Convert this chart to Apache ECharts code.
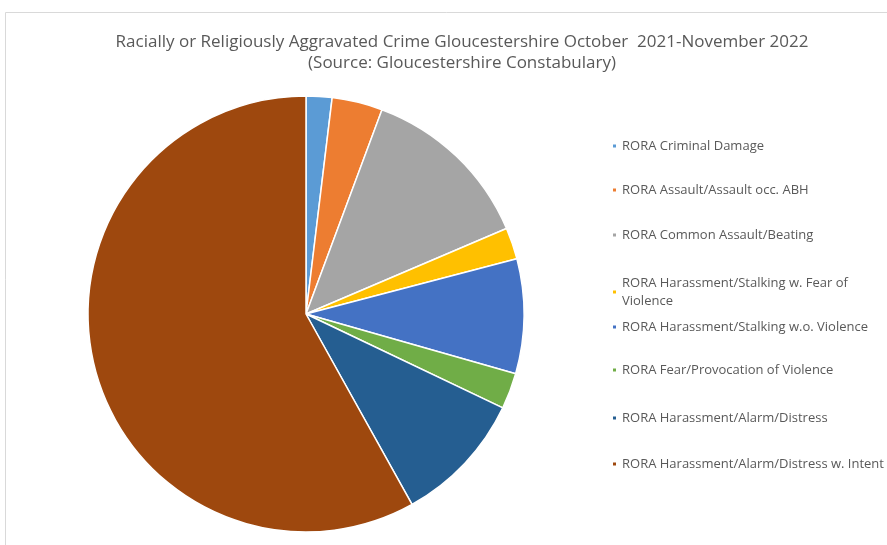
<!DOCTYPE html>
<html>
<head>
<meta charset="utf-8">
<script src="https://cdn.jsdelivr.net/npm/echarts@6/dist/echarts.min.js"></script>
<style>
  html, body { margin: 0; padding: 0; background: #fff; }
  #chart { width: 887px; height: 545px; }
</style>
</head>
<body>
<div id="chart"></div>
<script>
const categories = [
  'RORA Criminal Damage',
  'RORA Assault/Assault occ. ABH',
  'RORA Common Assault/Beating',
  'RORA Harassment/Stalking w. Fear of Violence',
  'RORA Harassment/Stalking w.o. Violence',
  'RORA Fear/Provocation of Violence',
  'RORA Harassment/Alarm/Distress',
  'RORA Harassment/Alarm/Distress w. Intent'
]
const values = [23, 45, 155, 28, 102, 32, 118, 697]
const colors = ['#5B9BD5', '#ED7D31', '#A5A5A5', '#FFC000', '#4472C4', '#70AD47', '#255E91', '#9E480E']
const legendTops = [146, 190, 235, 292, 327, 370, 418, 464]

const chart = echarts.init(document.getElementById('chart'), null, { renderer: 'canvas' })

const legends = categories.map((name, i) => ({
  data: [name],
  orient: 'vertical',
  left: 611,
  top: legendTops[i] - (i === 3 ? 18 : 9),
  padding: 0,
  icon: 'rect',
  itemWidth: 5,
  itemHeight: 5,
  itemGap: 0,
  selectedMode: false,
  formatter: (n) => n === 'RORA Harassment/Stalking w. Fear of Violence'
    ? 'RORA Harassment/Stalking w. Fear of\nViolence' : n,
  textStyle: {
    color: '#595959',
    fontSize: 13,
    fontFamily: 'Open Sans',
    lineHeight: 18
  }
}))

chart.setOption({
  backgroundColor: '#fff',
  color: colors,
  animation: false,
  title: {
    text: 'Racially or Religiously Aggravated Crime Gloucestershire October  2021-November 2022\n(Source: Gloucestershire Constabulary)',
    left: 457,
    top: 27,
    textAlign: 'center',
    textStyle: {
      color: '#595959',
      fontSize: 17,
      fontWeight: 'normal',
      fontFamily: 'Open Sans',
      lineHeight: 21
    }
  },
  graphic: [{
    type: 'rect',
    shape: { x: 5.5, y: 12.5, width: 890, height: 540 },
    style: { fill: 'none', stroke: '#d9d9d9', lineWidth: 1 },
    silent: true
  }],
  legend: legends,
  series: [{
    type: 'pie',
    center: [306, 314],
    radius: 218,
    startAngle: 90,
    clockwise: true,
    label: { show: false },
    labelLine: { show: false },
    itemStyle: { borderColor: '#fff', borderWidth: 1.5 },
    emphasis: { disabled: true },
    data: categories.map((name, i) => ({ name, value: values[i] }))
  }]
})
</script>
</body>
</html>
